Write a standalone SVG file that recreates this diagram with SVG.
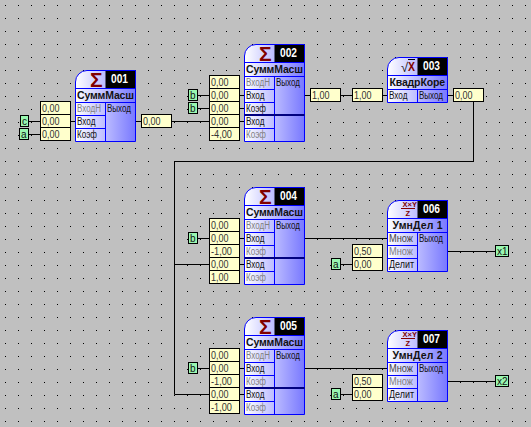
<svg xmlns="http://www.w3.org/2000/svg" width="531" height="427" viewBox="0 0 531 427">
<style>
text{font-family:"Liberation Sans",Arial,sans-serif;fill:#111}
.l{font-size:10px}
.g{font-size:10px;fill:#808080}
.t{font-size:10.5px;font-weight:bold}
.n{font-size:12px;font-weight:bold;fill:#fff}
.s{font-size:21px;font-weight:bold;fill:#800000}
.m{font-size:7.5px;font-weight:bold;fill:#800000}
.body{fill:url(#grad);stroke:#00f;stroke-width:1}
.hd{fill:#000}
.sep{stroke:#00f;stroke-width:1;fill:none}
.thick{stroke:#000080;stroke-width:2;fill:none}
.v rect{fill:#ffffcc;stroke:#000;stroke-width:1}
.v text{font-size:10px;fill:#333}
.tag rect{fill:#99f7b0;stroke:#000;stroke-width:1}
.tag text{font-size:10px;fill:#111}
#connectors path{fill:none;stroke:#000;stroke-width:1}
</style>
<defs>
<pattern id="dots" x="5" y="5" width="13" height="13" patternUnits="userSpaceOnUse"><rect width="1" height="1" fill="#000"/></pattern>
<linearGradient id="grad" x1="0" y1="0" x2="1" y2="0"><stop offset="0" stop-color="#fff"/><stop offset="1" stop-color="#7878ff"/></linearGradient>
</defs>
<rect width="531" height="427" fill="#c0c0c0"/>
<rect width="531" height="427" fill="url(#dots)"/>

<g id="connectors">
<path d="M28 121.5H40M28 134.5H40M71 121.5H75M135 121.5H142M172 121.5H209"/>
<path d="M197 95.5H209M197 108.5H209M240 95.5H244M240 108.5H244M240 121.5H244M304 95.5H311M341 95.5H352M383 95.5H387M447 95.5H453"/>
<path d="M473.5 102V161.5H174.5V394.5H209M174.5 264.5H209"/>
<path d="M197 238.5H209M240 238.5H244M240 264.5H244M304 238.5H387M340 264.5H352M447 251.5H495"/>
<path d="M197 368.5H209M240 368.5H244M240 394.5H244M304 368.5H387M340 394.5H352M447 381.5H495"/>
</g>

<g class="v" id="values">
<rect x="40.5" y="101.5" width="30" height="13"/><text x="42" y="112" textLength="17.5" lengthAdjust="spacingAndGlyphs">0,00</text>
<rect x="40.5" y="114.5" width="30" height="13"/><text x="42" y="125" textLength="17.5" lengthAdjust="spacingAndGlyphs">0,00</text>
<rect x="40.5" y="127.5" width="30" height="13"/><text x="42" y="138" textLength="17.5" lengthAdjust="spacingAndGlyphs">0,00</text>
<rect x="141.5" y="114.5" width="30" height="13"/><text x="143" y="125" textLength="17.5" lengthAdjust="spacingAndGlyphs">0,00</text>
<rect x="209.5" y="75.5" width="30" height="13"/><text x="211" y="86" textLength="17.5" lengthAdjust="spacingAndGlyphs">0,00</text>
<rect x="209.5" y="88.5" width="30" height="13"/><text x="211" y="99" textLength="17.5" lengthAdjust="spacingAndGlyphs">0,00</text>
<rect x="209.5" y="101.5" width="30" height="13"/><text x="211" y="112" textLength="17.5" lengthAdjust="spacingAndGlyphs">0,00</text>
<rect x="209.5" y="114.5" width="30" height="13"/><text x="211" y="125" textLength="17.5" lengthAdjust="spacingAndGlyphs">0,00</text>
<rect x="209.5" y="127.5" width="30" height="13"/><text x="211" y="138" textLength="21" lengthAdjust="spacingAndGlyphs">-4,00</text>
<rect x="310.5" y="88.5" width="30" height="13"/><text x="312" y="99" textLength="17.5" lengthAdjust="spacingAndGlyphs">1,00</text>
<rect x="352.5" y="88.5" width="30" height="13"/><text x="354" y="99" textLength="17.5" lengthAdjust="spacingAndGlyphs">1,00</text>
<rect x="453.5" y="88.5" width="30" height="13"/><text x="455" y="99" textLength="17.5" lengthAdjust="spacingAndGlyphs">0,00</text>
<rect x="209.5" y="218.5" width="30" height="13"/><text x="211" y="229" textLength="17.5" lengthAdjust="spacingAndGlyphs">0,00</text>
<rect x="209.5" y="231.5" width="30" height="13"/><text x="211" y="242" textLength="17.5" lengthAdjust="spacingAndGlyphs">0,00</text>
<rect x="209.5" y="244.5" width="30" height="13"/><text x="211" y="255" textLength="21" lengthAdjust="spacingAndGlyphs">-1,00</text>
<rect x="209.5" y="257.5" width="30" height="13"/><text x="211" y="268" textLength="17.5" lengthAdjust="spacingAndGlyphs">0,00</text>
<rect x="209.5" y="270.5" width="30" height="13"/><text x="211" y="281" textLength="17.5" lengthAdjust="spacingAndGlyphs">1,00</text>
<rect x="209.5" y="348.5" width="30" height="13"/><text x="211" y="359" textLength="17.5" lengthAdjust="spacingAndGlyphs">0,00</text>
<rect x="209.5" y="361.5" width="30" height="13"/><text x="211" y="372" textLength="17.5" lengthAdjust="spacingAndGlyphs">0,00</text>
<rect x="209.5" y="374.5" width="30" height="13"/><text x="211" y="385" textLength="21" lengthAdjust="spacingAndGlyphs">-1,00</text>
<rect x="209.5" y="387.5" width="30" height="13"/><text x="211" y="398" textLength="17.5" lengthAdjust="spacingAndGlyphs">0,00</text>
<rect x="209.5" y="400.5" width="30" height="13"/><text x="211" y="411" textLength="21" lengthAdjust="spacingAndGlyphs">-1,00</text>
<rect x="352.5" y="244.5" width="30" height="13"/><text x="354" y="255" textLength="17.5" lengthAdjust="spacingAndGlyphs">0,50</text>
<rect x="352.5" y="257.5" width="30" height="13"/><text x="354" y="268" textLength="17.5" lengthAdjust="spacingAndGlyphs">0,00</text>
<rect x="352.5" y="374.5" width="30" height="13"/><text x="354" y="385" textLength="17.5" lengthAdjust="spacingAndGlyphs">0,50</text>
<rect x="352.5" y="387.5" width="30" height="13"/><text x="354" y="398" textLength="17.5" lengthAdjust="spacingAndGlyphs">0,00</text>
</g>

<g class="tag" id="tags">
<rect x="20.5" y="115.5" width="8" height="11"/><text x="22" y="125">c</text>
<rect x="19.5" y="128.5" width="9" height="11"/><text x="21" y="138">a</text>
<rect x="188.5" y="89.5" width="9" height="11"/><text x="190" y="99">b</text>
<rect x="188.5" y="102.5" width="9" height="11"/><text x="190" y="112">b</text>
<rect x="188.5" y="232.5" width="9" height="11"/><text x="190" y="242">b</text>
<rect x="188.5" y="362.5" width="9" height="11"/><text x="190" y="372">b</text>
<rect x="331.5" y="258.5" width="9" height="11"/><text x="333" y="268">a</text>
<rect x="331.5" y="388.5" width="9" height="11"/><text x="333" y="398">a</text>
<rect x="495.5" y="245.5" width="13" height="11"/><text x="497" y="255">x1</text>
<rect x="495.5" y="375.5" width="13" height="11"/><text x="497" y="385">x2</text>
</g>

<g id="node001">
<path class="body" d="M75.5 141.5V82A11.5 11.5 0 0 1 87 70.5H135.5V141.5Z"/>
<rect class="hd" x="105.5" y="71" width="29.5" height="17"/>
<path class="sep" d="M75.5 88.5H135.5M75.5 102.5H135.5M75.5 115.5H105.5M75.5 128.5H105.5M105.5 102.5V141.5"/>
<text class="s" x="90" y="87">Σ</text><text class="n" x="111" y="83" textLength="17" lengthAdjust="spacingAndGlyphs">001</text>
<text class="t" x="77" y="99" textLength="57">СуммМасш</text>
<text class="g" x="77" y="112" textLength="24" lengthAdjust="spacingAndGlyphs">ВходН</text><text class="l" x="107" y="112" textLength="24" lengthAdjust="spacingAndGlyphs">Выход</text>
<text class="l" x="77" y="125" textLength="18.5" lengthAdjust="spacingAndGlyphs">Вход</text><text class="l" x="77" y="138" textLength="20" lengthAdjust="spacingAndGlyphs">Коэф</text>
</g>

<g id="node002">
<path class="body" d="M244.5 141.5V56A11.5 11.5 0 0 1 256 44.5H304.5V141.5Z"/>
<rect class="hd" x="274.5" y="45" width="29.5" height="17"/>
<path class="sep" d="M244.5 62.5H304.5M244.5 76.5H304.5M244.5 89.5H274.5M244.5 102.5H274.5M244.5 128.5H274.5M274.5 76.5V141.5"/>
<path class="thick" d="M244.5 115H304.5"/>
<text class="s" x="259" y="61">Σ</text><text class="n" x="280" y="57" textLength="17" lengthAdjust="spacingAndGlyphs">002</text>
<text class="t" x="246" y="73" textLength="57">СуммМасш</text>
<text class="g" x="246" y="86" textLength="24" lengthAdjust="spacingAndGlyphs">ВходН</text><text class="l" x="276" y="86" textLength="24" lengthAdjust="spacingAndGlyphs">Выход</text>
<text class="l" x="246" y="99" textLength="18.5" lengthAdjust="spacingAndGlyphs">Вход</text><text class="l" x="246" y="112" textLength="20" lengthAdjust="spacingAndGlyphs">Коэф</text>
<text class="l" x="246" y="125" textLength="18.5" lengthAdjust="spacingAndGlyphs">Вход</text><text class="g" x="246" y="138" textLength="20" lengthAdjust="spacingAndGlyphs">Коэф</text>
</g>

<g id="node003">
<path class="body" d="M387.5 102.5V69A11.5 11.5 0 0 1 399 57.5H447.5V102.5Z"/>
<rect class="hd" x="417.5" y="58" width="29.5" height="17"/>
<path class="sep" d="M387.5 75.5H447.5M387.5 89.5H447.5M417.5 89.5V102.5"/>
<text x="401" y="72" style="font-size:13px">√</text><path d="M408 59.5H415" stroke="#000" fill="none"/>
<text x="408" y="71" style="font-size:12px;font-weight:bold;fill:#800000" textLength="7" lengthAdjust="spacingAndGlyphs">X</text>
<text class="n" x="423" y="70" textLength="17" lengthAdjust="spacingAndGlyphs">003</text>
<text class="t" x="389.5" y="86" textLength="55.5">КвадрКоре</text>
<text class="l" x="389" y="99" textLength="18.5" lengthAdjust="spacingAndGlyphs">Вход</text><text class="l" x="419" y="99" textLength="24" lengthAdjust="spacingAndGlyphs">Выход</text>
</g>

<g id="node004">
<path class="body" d="M244.5 284.5V199A11.5 11.5 0 0 1 256 187.5H304.5V284.5Z"/>
<rect class="hd" x="274.5" y="188" width="29.5" height="17"/>
<path class="sep" d="M244.5 205.5H304.5M244.5 219.5H304.5M244.5 232.5H274.5M244.5 245.5H274.5M244.5 271.5H274.5M274.5 219.5V284.5"/>
<path class="thick" d="M244.5 258H304.5"/>
<text class="s" x="259" y="204">Σ</text><text class="n" x="280" y="200" textLength="17" lengthAdjust="spacingAndGlyphs">004</text>
<text class="t" x="246" y="216" textLength="57">СуммМасш</text>
<text class="g" x="246" y="229" textLength="24" lengthAdjust="spacingAndGlyphs">ВходН</text><text class="l" x="276" y="229" textLength="24" lengthAdjust="spacingAndGlyphs">Выход</text>
<text class="l" x="246" y="242" textLength="18.5" lengthAdjust="spacingAndGlyphs">Вход</text><text class="g" x="246" y="255" textLength="20" lengthAdjust="spacingAndGlyphs">Коэф</text>
<text class="l" x="246" y="268" textLength="18.5" lengthAdjust="spacingAndGlyphs">Вход</text><text class="g" x="246" y="281" textLength="20" lengthAdjust="spacingAndGlyphs">Коэф</text>
</g>

<g id="node005">
<path class="body" d="M244.5 414.5V329A11.5 11.5 0 0 1 256 317.5H304.5V414.5Z"/>
<rect class="hd" x="274.5" y="318" width="29.5" height="17"/>
<path class="sep" d="M244.5 335.5H304.5M244.5 349.5H304.5M244.5 362.5H274.5M244.5 375.5H274.5M244.5 401.5H274.5M274.5 349.5V414.5"/>
<path class="thick" d="M244.5 388H304.5"/>
<text class="s" x="259" y="334">Σ</text><text class="n" x="280" y="330" textLength="17" lengthAdjust="spacingAndGlyphs">005</text>
<text class="t" x="246" y="346" textLength="57">СуммМасш</text>
<text class="g" x="246" y="359" textLength="24" lengthAdjust="spacingAndGlyphs">ВходН</text><text class="l" x="276" y="359" textLength="24" lengthAdjust="spacingAndGlyphs">Выход</text>
<text class="l" x="246" y="372" textLength="18.5" lengthAdjust="spacingAndGlyphs">Вход</text><text class="g" x="246" y="385" textLength="20" lengthAdjust="spacingAndGlyphs">Коэф</text>
<text class="l" x="246" y="398" textLength="18.5" lengthAdjust="spacingAndGlyphs">Вход</text><text class="g" x="246" y="411" textLength="20" lengthAdjust="spacingAndGlyphs">Коэф</text>
</g>

<g id="node006">
<path class="body" d="M387.5 271.5V212A11.5 11.5 0 0 1 399 200.5H447.5V271.5Z"/>
<rect class="hd" x="417.5" y="201" width="29.5" height="17"/>
<path class="sep" d="M387.5 218.5H447.5M387.5 232.5H447.5M387.5 245.5H417.5M387.5 258.5H417.5M417.5 232.5V271.5"/>
<text class="m" x="402.5" y="207">X×Y</text><path d="M401 208.5H415" stroke="#800000" fill="none"/><text class="m" x="405.5" y="215.5">Z</text>
<text class="n" x="423" y="213" textLength="17" lengthAdjust="spacingAndGlyphs">006</text>
<text class="t" x="392.5" y="229" textLength="50">УмнДел 1</text>
<text class="l" x="389" y="242" style="fill:#444" textLength="24" lengthAdjust="spacingAndGlyphs">Множ</text><text class="l" x="419" y="242" textLength="24" lengthAdjust="spacingAndGlyphs">Выход</text>
<text class="g" x="389" y="255" textLength="24" lengthAdjust="spacingAndGlyphs">Множ</text><text class="l" x="389" y="268" textLength="25" lengthAdjust="spacingAndGlyphs">Делит</text>
</g>

<g id="node007">
<path class="body" d="M387.5 401.5V342A11.5 11.5 0 0 1 399 330.5H447.5V401.5Z"/>
<rect class="hd" x="417.5" y="331" width="29.5" height="17"/>
<path class="sep" d="M387.5 348.5H447.5M387.5 362.5H447.5M387.5 375.5H417.5M387.5 388.5H417.5M417.5 362.5V401.5"/>
<text class="m" x="402.5" y="337">X×Y</text><path d="M401 338.5H415" stroke="#800000" fill="none"/><text class="m" x="405.5" y="345.5">Z</text>
<text class="n" x="423" y="343" textLength="17" lengthAdjust="spacingAndGlyphs">007</text>
<text class="t" x="392.5" y="359" textLength="50">УмнДел 2</text>
<text class="l" x="389" y="372" style="fill:#444" textLength="24" lengthAdjust="spacingAndGlyphs">Множ</text><text class="l" x="419" y="372" textLength="24" lengthAdjust="spacingAndGlyphs">Выход</text>
<text class="g" x="389" y="385" textLength="24" lengthAdjust="spacingAndGlyphs">Множ</text><text class="l" x="389" y="398" textLength="25" lengthAdjust="spacingAndGlyphs">Делит</text>
</g>
</svg>
